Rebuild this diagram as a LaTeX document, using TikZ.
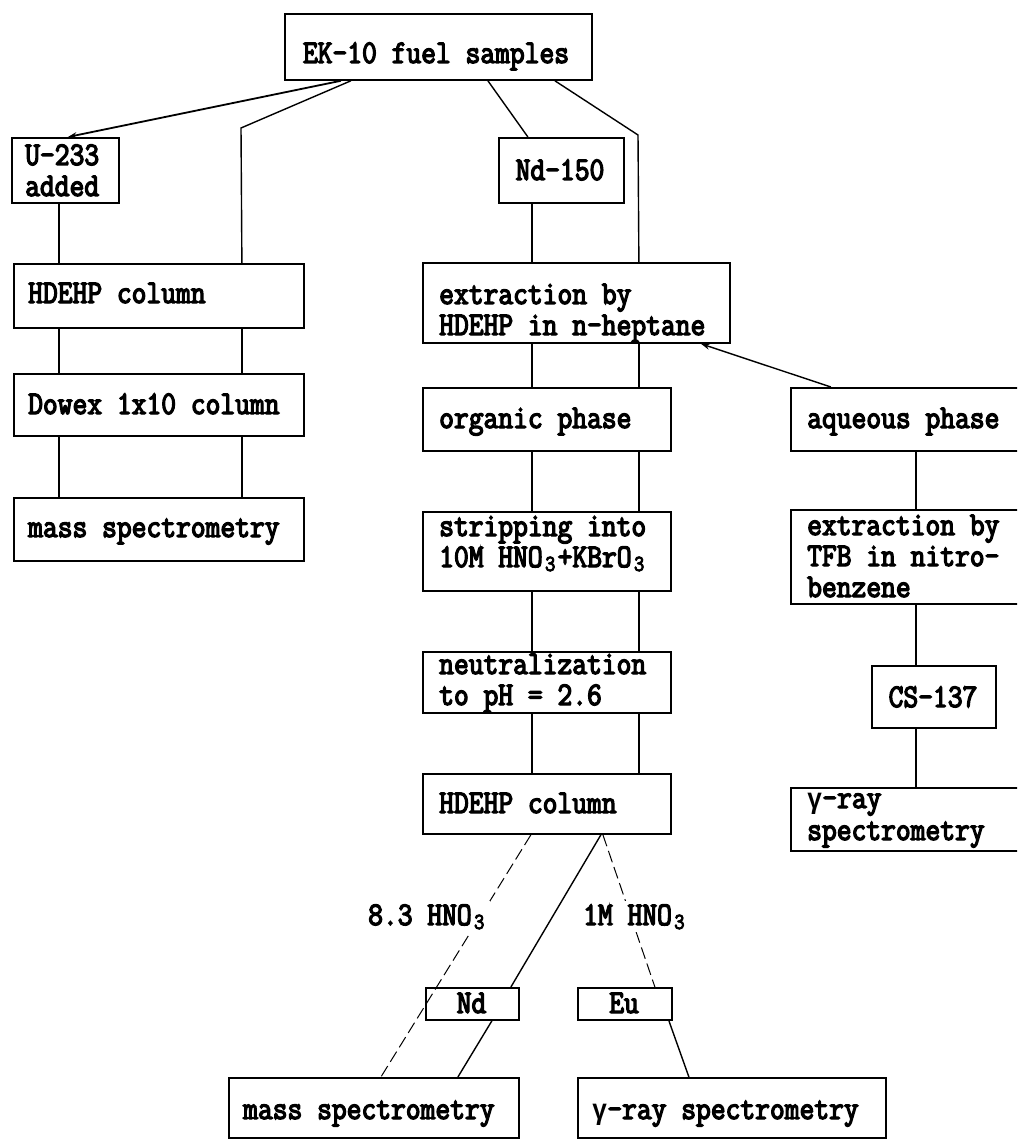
\documentclass[tikz,border=0pt]{standalone}
\usepackage{fontspec}
\newfontfamily\twf[FakeStretch=0.87, FakeBold=4]{Latin Modern Mono}
\newfontfamily\grf[FakeStretch=0.87]{Liberation Mono}
\usetikzlibrary{arrows.meta}
\newcommand\subs[1]{\makebox[15pt][c]{\raisebox{-4pt}{\fontsize{23}{23}\selectfont #1}}}
\newcommand\gam{{\grf\bfseries\fontsize{29}{31}\selectfont γ}}
\begin{document}
\begin{tikzpicture}[x=1pt,y=-1pt,
  box/.style={draw, line width=1.8pt, fill=white, inner sep=0pt, anchor=north west},
  txt/.style={font=\twf\fontsize{33}{31}\selectfont, inner sep=0pt},
  conn/.style={line width=1.4pt},
  dconn/.style={line width=1pt, dash pattern=on 12pt off 5pt},
  tip/.style={-{Stealth[length=9pt,width=6pt]}}]
\useasboundingbox (0,0) rectangle (1017,1139);
\clip (0,0) rectangle (1017,1139);
\fill[white] (0,0) rectangle (1017,1139);

% boxes
\node[box, minimum width=307pt, minimum height=66pt] (ek) at (284,13) {};
\node[box, minimum width=107pt, minimum height=65pt] (u233) at (11,137) {};
\node[box, minimum width=125pt, minimum height=65pt] (nd150) at (498,137) {};
\node[box, minimum width=290pt, minimum height=64pt] (hd1) at (13,263) {};
\node[box, minimum width=290pt, minimum height=62pt] (dow) at (13,373) {};
\node[box, minimum width=290pt, minimum height=63pt] (ms1) at (13,497) {};
\node[box, minimum width=307pt, minimum height=80pt] (ext) at (422,262) {};
\node[box, minimum width=248pt, minimum height=63pt] (org) at (422,387) {};
\node[box, minimum width=248pt, minimum height=79pt] (strip) at (422,511) {};
\node[box, minimum width=248pt, minimum height=61pt] (neut) at (422,651) {};
\node[box, minimum width=248pt, minimum height=60pt] (hd2) at (422,773) {};
\node[box, minimum width=93pt, minimum height=32pt] (ndb) at (425,987) {};
\node[box, minimum width=94pt, minimum height=32pt] (eub) at (577,987) {};
\node[box, minimum width=290pt, minimum height=60pt] (ms2) at (228,1077) {};
\node[box, minimum width=308pt, minimum height=60pt] (gam2) at (577,1077) {};
\node[box, minimum width=250pt, minimum height=63pt] (aq) at (790,387) {};
\node[box, minimum width=250pt, minimum height=94pt] (ext2) at (790,509) {};
\node[box, minimum width=124pt, minimum height=62pt] (cs) at (871,665) {};
\node[box, minimum width=250pt, minimum height=63pt] (gam1) at (790,787) {};

% texts
\node[txt, anchor=base] (ek-t) at (436,63) {EK-10 fuel samples};
\node[txt, anchor=base west] (u233-t1) at (25,165) {U-233};
\node[txt, anchor=base west] (u233-t2) at (25,196) {added};
\node[txt, anchor=base] (nd150-t) at (560,180) {Nd-150};
\node[txt, anchor=base west] (hd1-t) at (28,303) {HDEHP column};
\node[txt, anchor=base west] (dow-t) at (28,414) {Dowex 1x10 column};
\node[txt, anchor=base west] (ms1-t) at (28,537) {mass spectrometry};
\node[txt, anchor=base west] (ext-t1) at (439,304) {extraction by};
\node[txt, anchor=base west] (ext-t2) at (439,335) {HDEHP in n-heptane};
\node[txt, anchor=base west] (org-t) at (439,428) {organic phase};
\node[txt, anchor=base west] (strip-t1) at (439,536) {stripping into};
\node[txt, anchor=base west] (strip-t2) at (439,567) {10M HNO\subs{3}+KBrO\subs{3}};
\node[txt, anchor=base west] (neut-t1) at (439,674) {neutralization};
\node[txt, anchor=base west] (neut-t2) at (439,705) {to pH = 2.6};
\node[txt, anchor=base west] (hd2-t) at (439,813) {HDEHP column};
\node[txt, anchor=base] (ndb-t) at (471.5,1013) {Nd};
\node[txt, anchor=base] (eub-t) at (624,1013) {Eu};
\node[txt, anchor=base west] (ms2-t) at (243,1119) {mass spectrometry};
\node[txt, anchor=base west] (gam2-t) at (592,1119) {\gam-ray spectrometry};
\node[txt, anchor=base west] (aq-t) at (807,428) {aqueous phase};
\node[txt, anchor=base west] (ext2-t1) at (807,535) {extraction by};
\node[txt, anchor=base west] (ext2-t2) at (807,566) {TFB in nitro-};
\node[txt, anchor=base west] (ext2-t3) at (807,597) {benzene};
\node[txt, anchor=base] (cs-t) at (933,707) {CS-137};
\node[txt, anchor=base west] (gam1-t1) at (807,808) {\gam-ray};
\node[txt, anchor=base west] (gam1-t2) at (807,840) {spectrometry};

% connectors
\draw[conn, line width=1.8pt, tip] ([xshift=-97.5pt]ek.south) -- ([xshift=2.5pt]u233.north);
\coordinate (kL) at (241,128);
\draw[conn] ([xshift=-87.5pt]ek.south) -- (kL) -- ([xshift=83pt]hd1.north);
\draw[conn] ([xshift=49.5pt]ek.south) -- ([xshift=-33.5pt]nd150.north);
\coordinate (kR) at (638,135);
\draw[conn] ([xshift=116.5pt]ek.south) -- (kR) -- ([xshift=62.5pt]ext.north);
\draw[conn] ([xshift=-6.5pt]u233.south) -- ([xshift=-100pt]hd1.north);
\draw[conn] ([xshift=-29.5pt]nd150.south) -- ([xshift=-44.5pt]ext.north);
\foreach \d in {-100,83} {
  \draw[conn] ([xshift=\d pt]hd1.south) -- ([xshift=\d pt]dow.north);
  \draw[conn] ([xshift=\d pt]dow.south) -- ([xshift=\d pt]ms1.north);
}
\draw[conn] ([xshift=-44.5pt]ext.south) -- ([xshift=-15pt]org.north);
\draw[conn] ([xshift=62.5pt]ext.south) -- ([xshift=92pt]org.north);
\foreach \d in {-15,92} {
  \draw[conn] ([xshift=\d pt]org.south) -- ([xshift=\d pt]strip.north);
  \draw[conn] ([xshift=\d pt]strip.south) -- ([xshift=\d pt]neut.north);
  \draw[conn] ([xshift=\d pt]neut.south) -- ([xshift=\d pt]hd2.north);
}
\draw[conn, tip] ([xshift=-85pt]aq.north) -- ([xshift=124.5pt]ext.south);
\draw[conn] (aq.south) -- (ext2.north);
\draw[conn] (ext2.south) -- ([xshift=-18pt]cs.north);
\draw[conn] ([xshift=-18pt]cs.south) -- (gam1.north);
\draw[conn] ([xshift=54pt]hd2.south) -- ([xshift=38.5pt]ndb.north);
\draw[conn] ([xshift=19.5pt]ndb.south) -- ([xshift=84pt]ms2.north);
\draw[dconn] ([xshift=-16pt]hd2.south) -- ([xshift=7pt]ms2.north);
\draw[dconn] ([xshift=56pt]hd2.south) -- ([xshift=30pt]eub.north);
\draw[conn] ([xshift=44pt]eub.south) -- ([xshift=-43pt]gam2.north);

% edge labels
\node[txt, fill=white, inner sep=3pt, anchor=base west] (l83) at (365,925) {8.3 HNO\subs{3}};
\node[txt, fill=white, inner sep=3pt, anchor=base west] (l1m) at (580,925) {1M HNO\subs{3}};
\end{tikzpicture}
\end{document}
